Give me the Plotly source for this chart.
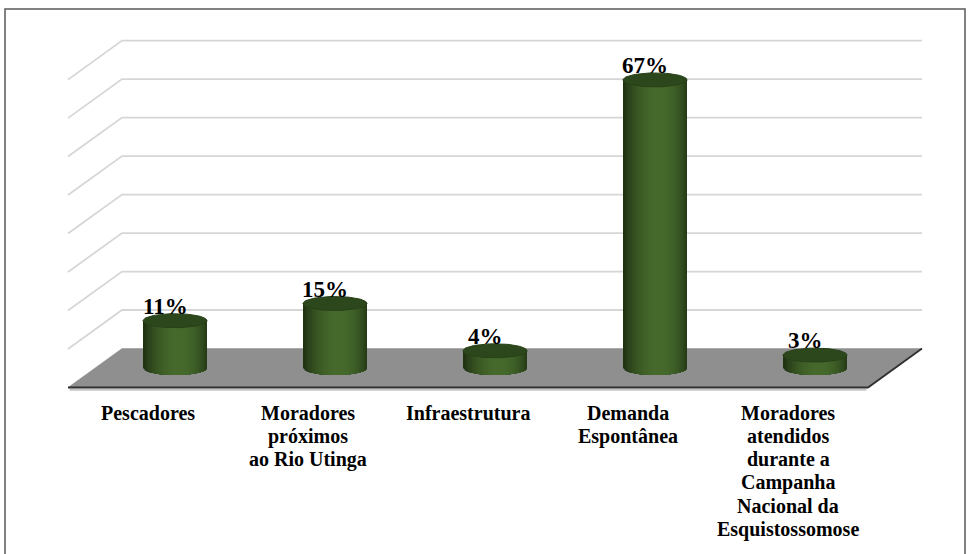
import numpy as np
import plotly.graph_objects as go

# ---- data -------------------------------------------------------------
categories = [
    "Pescadores",
    "Moradores<br>próximos<br>ao Rio Utinga",
    "Infraestrutura",
    "Demanda<br>Espontânea",
    "Moradores<br>atendidos<br>durante a<br>Campanha<br>Nacional da<br>Esquistossomose",
]
values = [11, 15, 4, 67, 3]
value_labels = ["11%", "15%", "4%", "67%", "3%"]
grid_levels = [10, 20, 30, 40, 50, 60, 70, 80]

# ---- geometry ---------------------------------------------------------
W, H = 971, 554
M_T, M_B = 20, 156
PX_X = 160.0      # pixels per category step
PX_Y = 4.3        # pixels per percentage point
X0_PX = 175       # pixel position of the first category
BASE_PX = 30      # zero line height above the bottom of the plot area

plot_h = H - M_T - M_B
x_range = [-X0_PX / PX_X, (W - X0_PX) / PX_X]
y_range = [-BASE_PX / PX_Y, (plot_h - BASE_PX) / PX_Y]

DX = 27 / PX_X          # half floor depth (horizontal shift)
DY = 19.5 / PX_Y        # half floor depth (vertical shift)
WALL_SCALE = 0.895      # back wall appears slightly smaller
RX = 32 / PX_X          # cylinder radius
RY = 7 / PX_Y           # cylinder ellipse semi-axis
N = len(values)
LEFT, RIGHT = -0.5, N - 0.5

SERIF = "Liberation Serif"
GRID = "#d6d6d6"
LABEL_SIZE = 20
LABEL_LINE = 23.2       # line pitch of the category labels (px)
LABEL_TOP = 15          # first label line centre below the plot area (px)

fig = go.Figure()


def poly(xs, ys, fill, line=None, width=0.0):
    fig.add_trace(go.Scatter(
        x=xs, y=ys, mode="lines", fill="toself", fillcolor=fill,
        line=dict(color=line or fill, width=width),
        hoverinfo="skip", showlegend=False))


def seg(xs, ys, color, width):
    fig.add_trace(go.Scatter(
        x=xs, y=ys, mode="lines", line=dict(color=color, width=width),
        hoverinfo="skip", showlegend=False))


# back wall and side wall gridlines
for lv in grid_levels:
    yb = DY + lv * WALL_SCALE
    seg([LEFT - DX, LEFT + DX, RIGHT + DX], [yb - 2 * DY, yb, yb], GRID, 1.8)

# floor
fx = [LEFT - DX, RIGHT - DX, RIGHT + DX, LEFT + DX, LEFT - DX]
fy = [-DY, -DY, DY, DY, -DY]
poly(fx, fy, "#8f8f8f", "#8f8f8f", 0.5)
# soft shadow and dark edges of the floor
sh = 2.2 / PX_Y
seg([LEFT - DX + 0.01, RIGHT - DX - 0.01], [-DY - sh, -DY - sh], "#c4c4c4", 2)
seg([LEFT - DX, RIGHT - DX, RIGHT + DX], [-DY, -DY, DY], "#303030", 1.8)

# cylinders: shaded slices painted left to right, each reaching the right rim
dark = np.array([32, 49, 19])
light = np.array([70, 106, 44])
phi = 0.12
NS = 36
edges = np.linspace(-1, 1, NS + 1)
for i, v in enumerate(values):
    for k in range(NS):
        ua = edges[k]
        um = 0.5 * (edges[k] + edges[k + 1])
        inten = max(0.0, um * np.sin(phi) + np.sqrt(1 - um ** 2) * np.cos(phi))
        c = dark + (light - dark) * inten ** 1.6
        col = "rgb(%d,%d,%d)" % tuple(c.astype(int))
        us = np.linspace(1.0, ua, 24)
        xs = [i + RX * ua, i + RX] + list(i + RX * us) + [i + RX * ua]
        ys = [v, v] + list(-RY * np.sqrt(np.clip(1 - us ** 2, 0, 1))) + [v]
        poly(xs, ys, col, col, 0)
    t = np.linspace(0, 2 * np.pi, 80)
    poly(list(i + RX * np.cos(t)), list(v + RY * np.sin(t)), "#2c471c", "#284118", 1)

# value labels above the cylinders
for i, (v, lab) in enumerate(zip(values, value_labels)):
    fig.add_annotation(
        x=i - 10 / PX_X, y=v + RY, text=lab, showarrow=False,
        xanchor="center", yanchor="bottom", yshift=-7,
        font=dict(family=SERIF, size=23, color="#000000", weight="bold"))

# category labels under the front edge of the floor, one line at a time
for i, cat in enumerate(categories):
    for j, line in enumerate(cat.split("<br>")):
        fig.add_annotation(
            x=i - DX, xref="x", y=0, yref="paper", text=line,
            showarrow=False, xanchor="center", yanchor="middle",
            yshift=-(LABEL_TOP + j * LABEL_LINE),
            font=dict(family=SERIF, size=LABEL_SIZE, color="#000000",
                      weight="bold"))

# outer frame
fig.add_shape(
    type="rect", xref="paper", yref="paper",
    x0=5 / W, x1=965 / W,
    y0=(plot_h + M_T - 570) / plot_h, y1=(plot_h + M_T - 9) / plot_h,
    line=dict(color="#5a5a5a", width=1.5), fillcolor="rgba(0,0,0,0)")

fig.update_layout(
    width=W, height=H,
    margin=dict(l=0, r=0, t=M_T, b=M_B),
    paper_bgcolor="white", plot_bgcolor="white",
    showlegend=False,
    xaxis=dict(
        range=x_range, showgrid=False, zeroline=False, showline=False,
        ticks="", showticklabels=False, fixedrange=True),
    yaxis=dict(range=y_range, visible=False, fixedrange=True),
)

fig.write_html("out.html")
